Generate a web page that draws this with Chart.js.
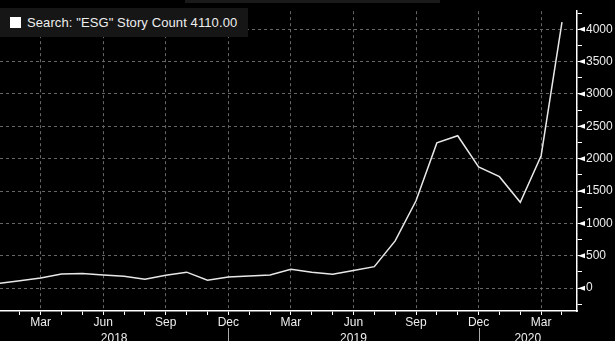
<!DOCTYPE html>
<html>
<head>
<meta charset="utf-8">
<script src="https://cdn.jsdelivr.net/npm/chart.js@4"></script>
<style>
  html, body { margin: 0; padding: 0; background: #000; }
  #wrap { position: relative; width: 615px; height: 341px; overflow: hidden; }
  #legend {
    position: absolute; left: 0; top: 8px; width: 248px; height: 29px;
    background: #161616; color: #eee;
    font: 13px "Liberation Sans", Arial, sans-serif;
    letter-spacing: 0.1px;
    display: flex; align-items: center;
  }
  #legend .swatch { width: 11px; height: 11px; background: #fff; margin: 0 6px 0 10px; }
</style>
</head>
<body>
<div id="wrap">
  <canvas id="chart" width="615" height="341"></canvas>
  <div id="legend"><span class="swatch"></span><span>Search: "ESG" Story Count 4110.00</span></div>
</div>
<script>
// Monthly story count, Jan 2018 .. Apr 2020
const months = ['Jan', 'Feb', 'Mar', 'Apr', 'May', 'Jun', 'Jul', 'Aug', 'Sep', 'Oct', 'Nov', 'Dec',
                'Jan', 'Feb', 'Mar', 'Apr', 'May', 'Jun', 'Jul', 'Aug', 'Sep', 'Oct', 'Nov', 'Dec',
                'Jan', 'Feb', 'Mar', 'Apr'];
const storyCount = [75, 115, 158, 218, 228, 203, 183, 139, 200, 247, 124, 173,
                    188, 203, 292, 246, 213, 273, 332, 730, 1350, 2244, 2354, 1871,
                    1722, 1326, 2046, 4110];
const quarterMonths = ['Mar', 'Jun', 'Sep', 'Dec'];
const years = ['2018', '2019', '2020'];
const yearBreaks = [11, 23];   // month index where each year block ends
const yTickValues = [-250, 0, 250, 500, 750, 1000, 1250, 1500, 1750, 2000, 2250,
                     2500, 2750, 3000, 3250, 3500, 3750, 4000, 4250];

const X_MIN = 0.05, X_MAX = 27.72;
const FONT = '"Liberation Sans", Arial, sans-serif';

const decor = {
  id: 'decor',
  afterDraw(chart) {
    const ctx = chart.ctx;
    const xs = chart.scales.x, ys = chart.scales.y;
    const area = chart.chartArea;
    ctx.save();
    // arrows next to labelled y ticks
    ctx.fillStyle = '#fff';
    yTickValues.filter(v => v % 500 === 0).forEach(v => {
      const py = ys.getPixelForValue(v);
      ctx.beginPath();
      ctx.moveTo(area.right + 1, py);
      ctx.lineTo(area.right + 8, py - 2.5);
      ctx.lineTo(area.right + 8, py + 2.5);
      ctx.closePath();
      ctx.fill();
    });
    // year separators and labels
    ctx.strokeStyle = '#aaa';
    ctx.lineWidth = 1;
    yearBreaks.forEach(b => {
      const px = Math.round(xs.getPixelForValue(b)) + 0.5;
      ctx.beginPath();
      ctx.moveTo(px, area.bottom + 17);
      ctx.lineTo(px, chart.height);
      ctx.stroke();
    });
    const edges = [X_MIN, ...yearBreaks, X_MAX];
    ctx.fillStyle = '#eee';
    ctx.font = '12px ' + FONT;
    ctx.textAlign = 'center';
    ctx.textBaseline = 'alphabetic';
    years.forEach((yr, i) => {
      const px = (xs.getPixelForValue(edges[i]) + xs.getPixelForValue(edges[i + 1])) / 2;
      ctx.fillText(yr, px, area.bottom + 31);
    });
    // faint tab strip along the top
    ctx.fillStyle = '#1a1a1a';
    ctx.fillRect(185, 0, 255, 3);
    ctx.restore();
  }
};

new Chart(document.getElementById('chart'), {
  type: 'line',
  data: {
    datasets: [{
      label: 'Search: "ESG" Story Count',
      data: storyCount.map((v, i) => ({ x: i, y: v })),
      borderColor: '#e8e8e8',
      borderWidth: 1.5,
      pointRadius: 0,
      tension: 0,
      fill: false
    }]
  },
  options: {
    responsive: false,
    animation: false,
    layout: { padding: 0 },
    plugins: { legend: { display: false }, tooltip: { enabled: false } },
    scales: {
      x: {
        type: 'linear',
        min: X_MIN,
        max: X_MAX,
        afterBuildTicks: s => { s.ticks = months.map((m, i) => ({ value: i })).filter(t => t.value >= 1); },
        afterFit: s => { s.height = 30; },
        ticks: {
          autoSkip: false,
          maxRotation: 0,
          padding: 0,
          color: '#eee',
          font: { family: FONT, size: 12 },
          callback: v => quarterMonths.includes(months[v]) ? months[v] : ''
        },
        grid: {
          color: c => (c.tick && quarterMonths.includes(months[c.tick.value])) ? '#666' : 'transparent',
          tickColor: '#fff',
          tickLength: 4,
          lineWidth: 1
        },
        border: { color: '#fff', width: 1.5, dash: [3, 3] }
      },
      y: {
        position: 'right',
        min: -353,
        max: 4278,
        afterBuildTicks: s => { s.ticks = yTickValues.map(v => ({ value: v })); },
        afterFit: s => { s.width = 38; },
        ticks: {
          autoSkip: false,
          padding: 4,
          color: '#eee',
          font: { family: FONT, size: 12 },
          callback: v => (v % 500 === 0 ? String(v) : '')
        },
        grid: {
          color: c => (c.tick && c.tick.value % 500 === 0) ? '#666' : 'transparent',
          tickColor: '#fff',
          tickLength: 5,
          lineWidth: 1
        },
        border: { color: '#fff', width: 1.5, dash: [3, 3] }
      }
    }
  },
  plugins: [decor]
});
</script>
</body>
</html>
